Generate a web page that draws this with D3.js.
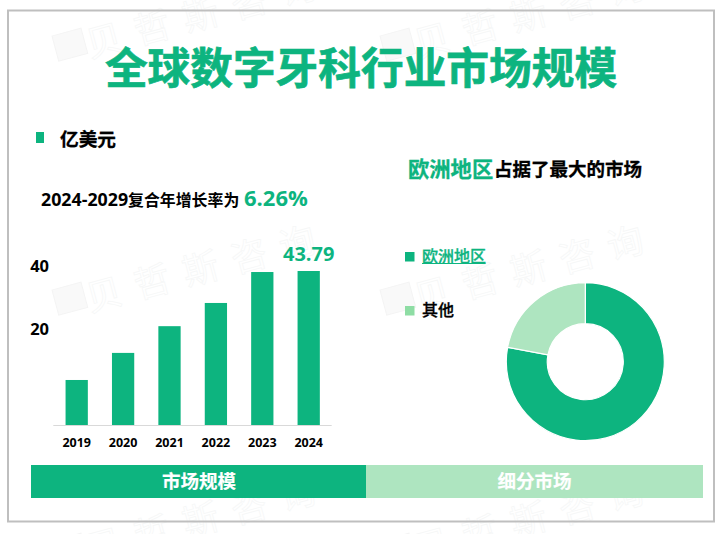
<!DOCTYPE html>
<html><head><meta charset="utf-8">
<script src="https://cdn.jsdelivr.net/npm/d3@7/dist/d3.min.js"></script>
<style>html,body{margin:0;padding:0;background:#fff}svg{display:block}text{font-family:"Open Sans","Noto Sans CJK SC",sans-serif}</style>
</head><body><svg id="c" width="723" height="534"></svg>
<script>
const years=["2019","2020","2021","2022","2023","2024"];
const marketSize=[12.8,20.5,28.1,34.7,43.5,43.79];
const yTickLabels=[20,40];
const segments=["欧洲地区","其他"];
const segmentShare=[77.9,22.1];
const GREEN="#0db47f",LIGHT="#aee5c0",LEG="#8edda4";
const svg=d3.select("#c");
// watermark
const wm=svg.append("g");
[[90,58],[90,312],[90,563],[418,58],[418,312],[418,563]].forEach(([x,y])=>{
  wm.append("text").attr("transform",`translate(${x},${y}) rotate(-15)`).attr("font-size",36).attr("letter-spacing",14)
    .attr("font-weight",400).attr("fill","#fff").attr("stroke","#f6f7f7").attr("stroke-width",.8).text("贝哲斯咨询");
  wm.append("rect").attr("transform",`translate(${x-38},${y-22}) rotate(-15)`).attr("width",30).attr("height",26).attr("fill","#f9f9f9").attr("stroke","#f4f4f4");
});
svg.append("rect").attr("x",8).attr("y",10.5).attr("width",706).attr("height",511).attr("fill","none").attr("stroke","#bfbfbf").attr("stroke-width",2);
const t=(x,y,s,size,fill,w,a,sw)=>svg.append("text").attr("x",x).attr("y",y).attr("font-size",size).attr("fill",fill).attr("font-weight",w||700).attr("text-anchor",a||"start").attr("stroke",sw?fill:"none").attr("stroke-width",sw||0).text(s);
t(361,84,"全球数字牙科行业市场规模",42.7,GREEN,700,"middle",.7);
svg.append("rect").attr("x",36).attr("y",132).attr("width",8).attr("height",11).attr("fill",GREEN);
t(60,146,"亿美元",18.7,"#000",700,"start",.3);
const g=t(41,206,"",17.8,"#000");
g.append("tspan").text("2024-2029");
g.append("tspan").attr("font-size",15.9).text("复合年增长率为");
t(244,206,"6.26%",22,GREEN);
// bars
const x=d3.scaleBand().domain(years).range([53.5,331.9]).paddingInner(0.52).paddingOuter(0.26);
const y=d3.scaleLinear().domain([0,43.79]).range([425,271]);
svg.selectAll("rect.bar").data(marketSize).join("rect").attr("class","bar")
  .attr("x",(d,i)=>x(years[i])).attr("width",x.bandwidth()).attr("y",d=>y(d)).attr("height",d=>425-y(d)).attr("fill",GREEN);
svg.append("line").attr("x1",53.3).attr("x2",331.7).attr("y1",425.5).attr("y2",425.5).attr("stroke","#d9d9d9");
years.forEach(v=>t(x(v)+x.bandwidth()/2,447,v,12.5,"#000",700,"middle"));
const yLabel=d3.scaleLinear().domain([20,40]).range([335,272]);
yTickLabels.forEach(v=>t(49,yLabel(v),v,16.5,"#000",700,"end"));
t(x("2024")+x.bandwidth()/2,261,"43.79",20,GREEN,700,"middle");
// donut
t(408,177,"欧洲地区",21.3,GREEN,700,"start",.3);
t(494,176,"占据了最大的市场",18.5,"#000",700,"start",.3);
const pie=d3.pie().sort(null)(segmentShare);
const arc=d3.arc().innerRadius(38).outerRadius(79);
svg.append("g").attr("transform","translate(585.3,361.7)").selectAll("path").data(pie).join("path")
  .attr("d",arc).attr("fill",(d,i)=>i?LIGHT:GREEN).attr("stroke","#fff").attr("stroke-width",1.2);
svg.append("rect").attr("x",405).attr("y",252).attr("width",9.5).attr("height",9.5).attr("fill",GREEN);
svg.append("rect").attr("x",405).attr("y",306).attr("width",9.5).attr("height",9.5).attr("fill",LEG);
t(422,262,segments[0],16,GREEN,500,"start",.3);
svg.append("line").attr("x1",422).attr("x2",485.5).attr("y1",263.5).attr("y2",263.5).attr("stroke",GREEN);
t(422,316,segments[1],16,"#000",500,"start",.3);
// banners
svg.append("rect").attr("x",31).attr("y",465).attr("width",335).attr("height",33).attr("fill",GREEN);
svg.append("rect").attr("x",366).attr("y",465).attr("width",337).attr("height",33).attr("fill",LIGHT);
t(199,488,"市场规模",18.5,"#fff",700,"middle",.2);
t(534.5,488,"细分市场",18.5,"#fff",700,"middle",.2);
</script></body></html>
